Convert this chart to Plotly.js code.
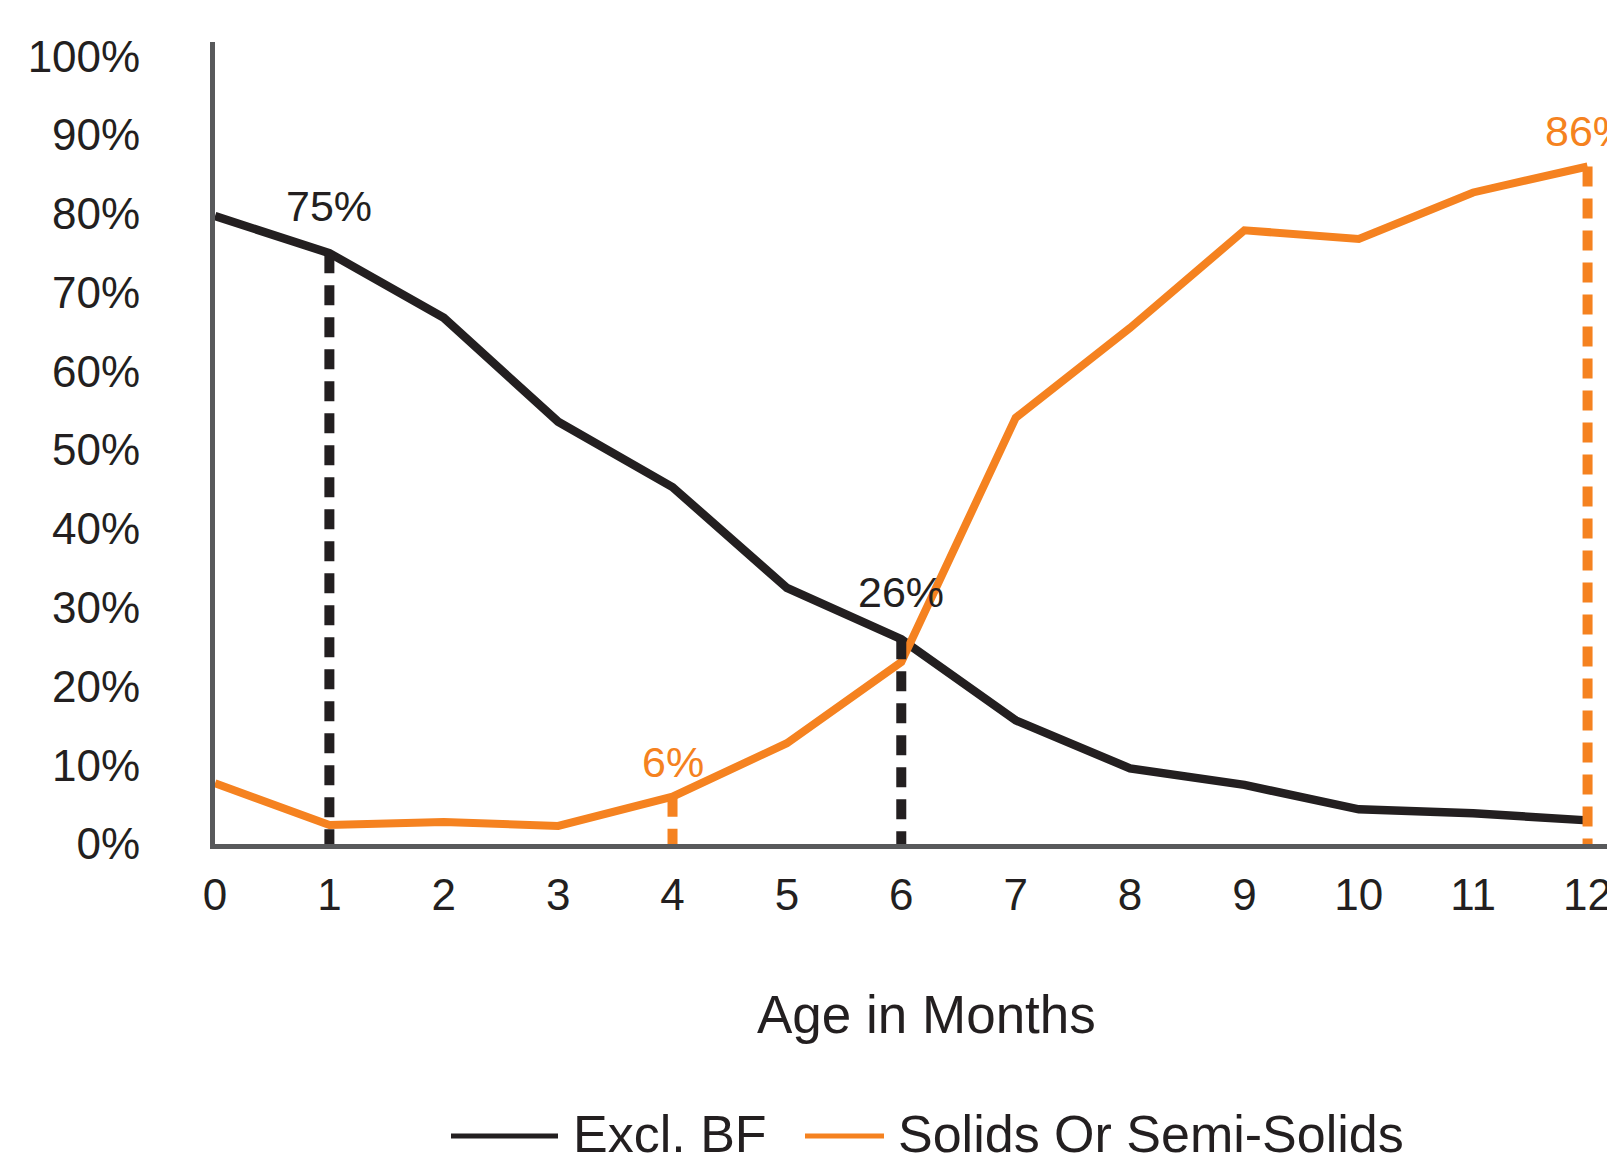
<!DOCTYPE html>
<html><head><meta charset="utf-8">
<script src="https://cdn.plot.ly/plotly-3.0.1.min.js"></script>
<style>html,body{margin:0;padding:0;background:#fff;overflow:hidden}#chart{width:1607px;height:1158px}</style>
</head><body><div id="chart"></div>
<script>
// ---- data ----
const months = [0,1,2,3,4,5,6,7,8,9,10,11,12];
const exclBF = [79.7,75,66.8,53.6,45.3,32.5,26,15.7,9.6,7.5,4.4,3.9,3.0];
const solids = [7.7,2.4,2.8,2.3,6,12.8,23.1,54.1,65.5,77.9,76.8,82.7,86];
const seriesNames = ['Excl. BF','Solids Or Semi-Solids'];
const yTickVals = [0,10,20,30,40,50,60,70,80,90,100];
const yTickText = ['0%','10%','20%','30%','40%','50%','60%','70%','80%','90%','100%'];
const xTickText = ['0','1','2','3','4','5','6','7','8','9','10','11','12'];
const bfMarkMonths = [1,6];
const bfMarkValues = [75,26];
const solidMarkMonths = [4,12];
const solidMarkValues = [6,86];
const xTitle = 'Age in Months';

// ---- styles ----
const BLACK = '#231f20';
const ORANGE = '#f58220';
const AXIS = '#58595b';
const FONT = 'Liberation Sans Narrow, Arial Narrow, Liberation Sans, Arial, sans-serif';

// pixel geometry helpers (paper coords)
const L = 215, R = 0, T = 42, B = 314, W = 1607, H = 1158;
const pw = W - L - R, ph = H - T - B;
const px = p => (p - L) / pw;
const py = p => (H - B - p) / ph;

const traces = [];
traces.push({x: months, y: exclBF, type: 'scatter', mode: 'lines', name: seriesNames[0],
  line: {color: BLACK, width: 8.5}, showlegend: false, hoverinfo: 'skip'});
traces.push({x: months, y: solids, type: 'scatter', mode: 'lines', name: seriesNames[1],
  line: {color: ORANGE, width: 8}, showlegend: false, hoverinfo: 'skip'});
bfMarkMonths.forEach((m, i) => traces.push({x: [m, m], y: [bfMarkValues[i], 0], type: 'scatter', mode: 'lines',
  line: {color: BLACK, width: 10, dash: '20px,12px'}, showlegend: false, hoverinfo: 'skip'}));
solidMarkMonths.forEach((m, i) => traces.push({x: [m, m], y: [solidMarkValues[i], 0], type: 'scatter', mode: 'lines',
  line: {color: ORANGE, width: 10, dash: '20px,12px'}, showlegend: false, hoverinfo: 'skip'}));

const annotations = [];
bfMarkMonths.forEach((m, i) => annotations.push({x: m, y: bfMarkValues[i], xref: 'x', yref: 'y',
  text: bfMarkValues[i] + '%', showarrow: false, yshift: 47, xanchor: 'center', yanchor: 'middle',
  font: {family: FONT, size: 43, color: BLACK}}));
solidMarkMonths.forEach((m, i) => annotations.push({x: m, y: solidMarkValues[i], xref: 'x', yref: 'y',
  text: solidMarkValues[i] + '%', showarrow: false, yshift: 35, xanchor: 'center', yanchor: 'middle',
  font: {family: FONT, size: 43, color: ORANGE}}));
// x-axis title
annotations.push({x: px(926), y: py(1014), xref: 'paper', yref: 'paper', text: xTitle, showarrow: false,
  xanchor: 'center', yanchor: 'middle', font: {family: FONT, size: 53, color: BLACK}});
// legend texts
annotations.push({x: px(571), y: py(1134), xref: 'paper', yref: 'paper', text: seriesNames[0], showarrow: false,
  xanchor: 'left', yanchor: 'middle', font: {family: FONT, size: 52, color: BLACK}});
annotations.push({x: px(896), y: py(1134), xref: 'paper', yref: 'paper', text: seriesNames[1], showarrow: false,
  xanchor: 'left', yanchor: 'middle', font: {family: FONT, size: 52, color: BLACK}});

const shapes = [
  {type: 'line', xref: 'paper', yref: 'paper', x0: px(451), x1: px(558), y0: py(1136), y1: py(1136), line: {color: BLACK, width: 5}},
  {type: 'line', xref: 'paper', yref: 'paper', x0: px(805), x1: px(884), y0: py(1136), y1: py(1136), line: {color: ORANGE, width: 5}}
];

const layout = {
  width: W, height: H,
  margin: {l: L, r: R, t: T, b: B, pad: 0},
  paper_bgcolor: '#fff', plot_bgcolor: '#fff',
  showlegend: false,
  font: {family: FONT, color: BLACK},
  xaxis: {range: [0, 12.17], tickvals: months, ticktext: xTickText, showgrid: false, zeroline: false,
    showline: true, linecolor: AXIS, linewidth: 5, ticks: '', ticklabelstandoff: 8, ticklabeloverflow: 'allow',
    tickfont: {family: FONT, size: 44, color: BLACK}, fixedrange: true},
  yaxis: {range: [0, 101.8], tickvals: yTickVals, ticktext: yTickText, showgrid: false, zeroline: false,
    showline: true, linecolor: AXIS, linewidth: 5, ticks: '', ticklabelstandoff: 61,
    tickfont: {family: FONT, size: 44, color: BLACK}, fixedrange: true},
  annotations: annotations,
  shapes: shapes
};
Plotly.newPlot('chart', traces, layout, {displayModeBar: false, staticPlot: true});
</script></body></html>
